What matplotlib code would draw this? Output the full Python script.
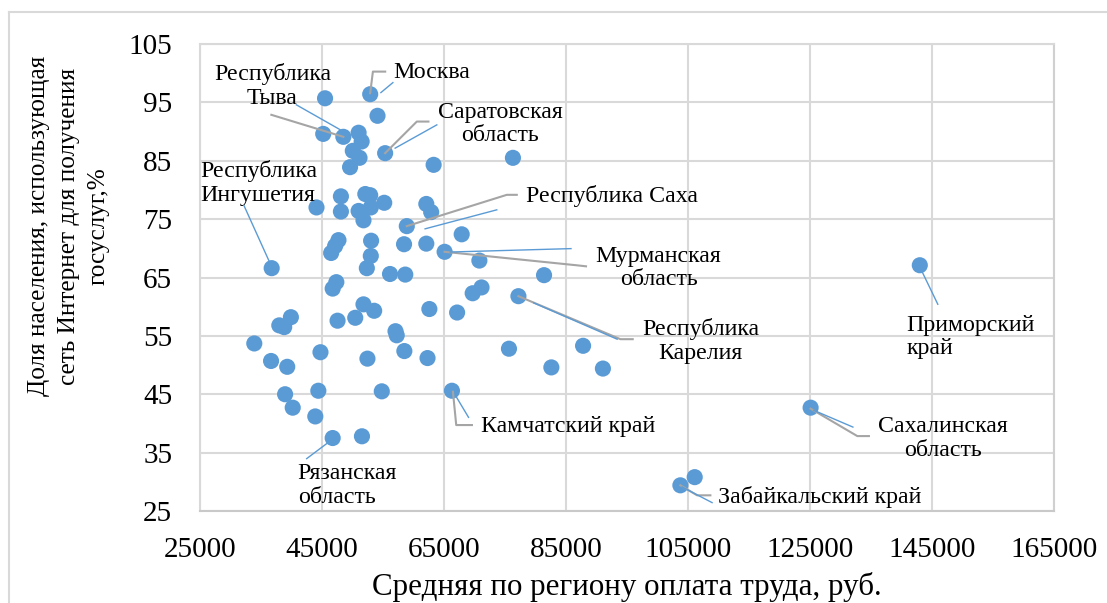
import matplotlib
matplotlib.use("Agg")
import matplotlib.pyplot as plt
import matplotlib.transforms as mtransforms
from matplotlib.lines import Line2D

plt.rcParams['font.family'] = ['Liberation Serif', 'DejaVu Serif']

# ---- data ----
wage = [45500, 52900, 54100, 45200, 48500, 51000, 51500, 50050, 51150, 55350,
        49600, 63300, 76300, 48100, 52100, 52900, 55200, 44100, 48100, 51000,
        53000, 51800, 62100, 62900, 58900, 67900, 47700, 47150, 46500, 53050,
        58450, 62100, 65100, 70800, 36750, 53000, 52350, 56150, 58650, 81400,
        47350, 46750, 69700, 71150, 77200, 143000, 51800, 53550, 50450, 47550,
        62600, 67150, 39900, 38000, 38800, 33900, 57050, 57250, 44750, 52450,
        58500, 62300, 75650, 87800, 82600, 91050, 36650, 39300, 38950, 44400,
        54800, 66300, 40200, 43900, 46750, 51550, 125100, 103750, 106100]
share = [95.7, 96.4, 92.7, 89.6, 89.1, 89.8, 88.3, 86.7, 85.5, 86.3,
         83.9, 84.3, 85.5, 78.9, 79.3, 79.1, 77.8, 77.0, 76.3, 76.4,
         77.0, 74.8, 77.6, 76.2, 73.8, 72.4, 71.4, 70.4, 69.2, 71.3,
         70.7, 70.8, 69.4, 67.9, 66.6, 68.7, 66.6, 65.6, 65.5, 65.4,
         64.2, 63.1, 62.3, 63.3, 61.8, 67.1, 60.4, 59.3, 58.1, 57.6,
         59.6, 59.0, 58.2, 56.8, 56.5, 53.7, 55.8, 55.1, 52.2, 51.1,
         52.4, 51.2, 52.8, 53.3, 49.6, 49.4, 50.7, 49.7, 45.0, 45.6,
         45.5, 45.6, 42.7, 41.2, 37.5, 37.8, 42.7, 29.4, 30.8]

x_ticks = [25000, 45000, 65000, 85000, 105000, 125000, 145000, 165000]
y_ticks = [25, 35, 45, 55, 65, 75, 85, 95, 105]

label_names = ["Москва", "Республика\nТыва", "Саратовская\nобласть", "Республика Саха",
               "Мурманская\nобласть", "Республика\nКарелия", "Камчатский край",
               "Забайкальский край", "Сахалинская\nобласть", "Приморский\nкрай",
               "Республика\nИнгушетия", "Рязанская\nобласть"]
label_index = [1, 4, 9, 24, 32, 44, 71, 77, 76, 45, 34, 74]

# layout of labels (pixel offsets from the point: text pos, alignment, gray elbow, blue segment)
layout = {
    "Москва": dict(t=(23, 22), ha='left', g=[(15, 22.6), (2.7, 22.6), (0, 1)], b=[(22.7, 11.6), (10.7, 1.6)]),
    "Республика\nТыва": dict(t=(-71, 51), ha='center', g=[(-72, 22), (0, 0)], b=[(-47, 32), (-3, 7)]),
    "Саратовская\nобласть": dict(t=(115, 29), ha='center', g=[(43.3, 31.6), (31.7, 31.6), (0, 0)], b=[(51.7, 28.3), (10, 5)]),
    "Республика Саха": dict(t=(119, 30), ha='left', g=[(110, 31.3), (100, 31.3), (0, 0)], b=[(90, 16.3), (18.3, -2.7)]),
    "Мурманская\nобласть": dict(t=(214, -16), ha='center', g=[(0, 0), (132.4, -13.5), (141.4, -14.5)], b=[(5.7, -0.2), (126.4, 3.2)]),
    "Республика\nКарелия": dict(t=(182, -45), ha='center', g=[(0, 0), (102, -43), (114.3, -43)], b=[(15.3, -6.7), (98.7, -43)]),
    "Камчатский край": dict(t=(29, -36), ha='left', g=[(1, -1), (4.3, -34.3), (20, -34.3)], b=[(4.3, -6), (16.6, -26.6)]),
    "Забайкальский край": dict(t=(38, -11.7), ha='left', g=[(0, 0), (16.7, -10), (30, -10)], b=[(1.7, -1.7), (31.7, -17.3)]),
    "Сахалинская\nобласть": dict(t=(132, -30.7), ha='center', g=[(0, -1), (46.7, -28.4), (58.3, -28.4)], b=[(3.3, -2.7), (42.3, -19.4)]),
    "Приморский\nкрай": dict(t=(-13.3, -72), ha='left', g=None, b=[(0, -1.7), (18, -39)]),
    "Республика\nИнгушетия": dict(t=(-71.7, 85), ha='left', g=None, b=[(-27.7, 62.6), (-2.7, 7.3)]),
    "Рязанская\nобласть": dict(t=(-35, -47.3), ha='left', g=None, b=[(-6, -5.6), (-26, -20.6)]),
}

W, H = 1107, 603
fig = plt.figure(figsize=(W / 100, H / 100), dpi=100)
fig.patch.set_facecolor('white')

L, R, T, B = 200, 1054, 44, 511
ax = fig.add_axes([L / W, 1 - B / H, (R - L) / W, (B - T) / H])

blue = '#5B9BD5'
grid_c = '#D9D9D9'

ax.scatter(wage, share, s=135, color=blue, edgecolors='none', zorder=3)

ax.set_xlim(25000, 165000)
ax.set_ylim(25, 105)
ax.set_xticks(x_ticks)
ax.set_yticks(y_ticks)
ax.set_xticklabels([str(v) for v in x_ticks])
ax.set_yticklabels([str(v) for v in y_ticks])
ax.tick_params(axis='both', length=0, labelsize=21, colors='black')
ax.tick_params(axis='x', pad=19)
ax.tick_params(axis='y', pad=20)
ax.grid(True, color=grid_c, linewidth=1.5, zorder=0)
ax.set_axisbelow(True)
for sp in ax.spines.values():
    sp.set_color(grid_c)
    sp.set_linewidth(1.5)
ax.spines['bottom'].set_color('#C9C9C9')
ax.spines['right'].set_color('#D0D0D0')

fig.canvas.draw()

for name, idx in zip(label_names, label_index):
    lay = layout[name]
    px, py = ax.transData.transform((wage[idx], share[idx]))
    tr = mtransforms.Affine2D().translate(px, py)
    if lay['g']:
        xs = [p[0] for p in lay['g']]
        ys = [p[1] for p in lay['g']]
        fig.add_artist(Line2D(xs, ys, transform=tr, color='#A5A5A5', linewidth=1.5, zorder=5))
    xs = [p[0] for p in lay['b']]
    ys = [p[1] for p in lay['b']]
    fig.add_artist(Line2D(xs, ys, transform=tr, color=blue, linewidth=1.0, zorder=6))
    ax.annotate(name, xy=(wage[idx], share[idx]), xytext=lay['t'], textcoords='offset pixels',
                ha=lay['ha'], va='center', multialignment=lay['ha'], fontsize=17.2,
                linespacing=1.15, zorder=7, annotation_clip=False)

ax.set_xlabel("Средняя по региону оплата труда, руб.", fontsize=22.3, labelpad=6)

fig.text(69 / W, 1 - 226 / H, "Доля населения, использующая\nсеть Интернет для получения\nгосуслуг,%",
         rotation=90, ha='center', va='center', multialignment='center', fontsize=18.2, linespacing=1.45)

# chart area border
fig.add_artist(Line2D([9 / W, 1], [1 - 12 / H, 1 - 12 / H], transform=fig.transFigure, color=grid_c, linewidth=1.5))
fig.add_artist(Line2D([9 / W, 9 / W], [1 - 12 / H, 0], transform=fig.transFigure, color=grid_c, linewidth=1.5))

fig.savefig("out.png", dpi=100)
